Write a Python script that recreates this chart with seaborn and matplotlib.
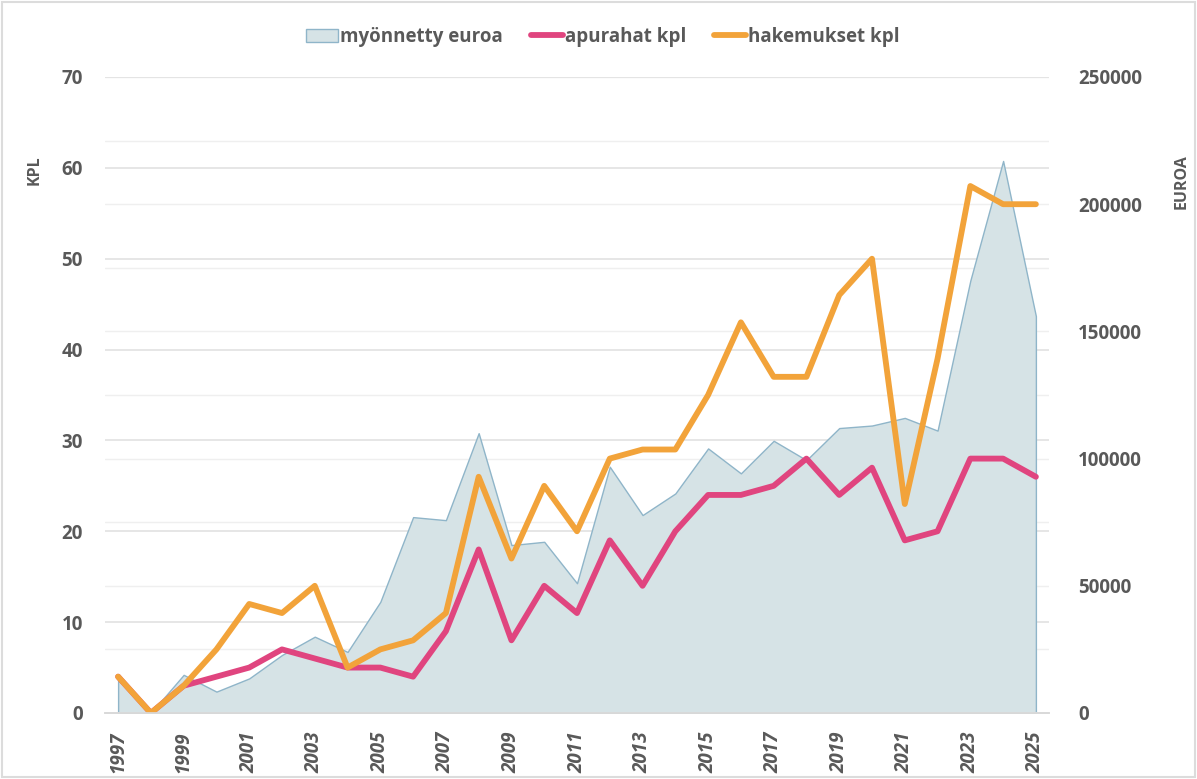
import matplotlib
matplotlib.use("Agg")
import matplotlib.pyplot as plt
from matplotlib.lines import Line2D
from matplotlib.patches import Patch, Rectangle
import numpy as np
import pandas as pd
import seaborn as sns

# data
years = list(range(1997, 2026))
myonnetty_euroa = [13000, 0, 15000, 8400, 13600, 22800, 30000, 24000, 43700, 77000,
                   75800, 110000, 66000, 67300, 51000, 96800, 77800, 86300, 104000, 94200,
                   107000, 99400, 112000, 113000, 116000, 111000, 170000, 217000, 156000]
apurahat_kpl = [4, 0, 3, 4, 5, 7, 6, 5, 5, 4,
                9, 18, 8, 14, 11, 19, 14, 20, 24, 24,
                25, 28, 24, 27, 19, 20, 28, 28, 26]
hakemukset_kpl = [4, 0, 3, 7, 12, 11, 14, 5, 7, 8,
                  11, 26, 17, 25, 20, 28, 29, 29, 35, 43,
                  37, 37, 46, 50, 23, 39, 58, 56, 56]

KPL_MAX = 70
EUR_MAX = 250000

TEXT = "#595959"
ORANGE = "#F2A33A"
PINK = "#E0457F"
FILL = "#D6E3E6"
EDGE = "#8FB5C9"

df = pd.DataFrame({
    "vuosi": years,
    "euroa": myonnetty_euroa,
    "apurahat": apurahat_kpl,
    "hakemukset": hakemukset_kpl,
})

sns.set_theme(style="white")
plt.rcParams["font.family"] = ["Open Sans", "DejaVu Sans"]
plt.rcParams["font.weight"] = "bold"

fig = plt.figure(figsize=(11.97, 7.79), dpi=100)
ax = fig.add_axes([105 / 1197, 66 / 779, 944 / 1197, 636 / 779])
ax2 = ax.twinx()
ax.set_zorder(ax2.get_zorder() + 1)
ax.patch.set_visible(False)

# gridlines sit on the euro axis so the area covers them
for k in range(1, 11):
    ax2.axhline(k * 25000, color="#EFEFEF", lw=1.0, zorder=0)
for k in range(1, 8):
    ax2.axhline(k * 10 * EUR_MAX / KPL_MAX, color="#E2E2E2", lw=1.2, zorder=0)

ax2.fill_between(df["vuosi"], df["euroa"], 0, facecolor=FILL, edgecolor=EDGE,
                 linewidth=1.0, zorder=2)

sns.lineplot(data=df, x="vuosi", y="apurahat", ax=ax, color=PINK, lw=4.2)
sns.lineplot(data=df, x="vuosi", y="hakemukset", ax=ax, color=ORANGE, lw=4.2)

ax.set_xlim(1996.6, 2025.4)
ax.set_ylim(0, KPL_MAX)
ax2.set_ylim(0, EUR_MAX)

ax.set_yticks(range(0, 71, 10))
ax2.set_yticks(range(0, 250001, 50000))
ax.set_xticks(range(1997, 2026, 2))
ax.set_xticks(range(1997, 2026), minor=True)

ax.tick_params(axis="y", length=0, pad=16, labelsize=13.5, labelcolor=TEXT)
ax2.tick_params(axis="y", length=0, pad=21, labelsize=13.5, labelcolor=TEXT)
ax.tick_params(axis="x", which="both", direction="out", length=4, color="#D9D9D9",
               pad=9, labelsize=13.5, labelcolor=TEXT, labelrotation=90)
for lab in ax.get_xticklabels():
    lab.set_fontstyle("italic")
    lab.set_fontweight("bold")

ax.set_xlabel("")
ax.set_ylabel("")
ax2.set_ylabel("")
for a in (ax, ax2):
    for side in ("top", "left", "right"):
        a.spines[side].set_visible(False)
    a.spines["bottom"].set_color("#D9D9D9")

fig.text(35 / 1197, 1 - 170 / 779, "KPL", rotation=90, ha="center", va="center",
         fontsize=11.5, color=TEXT, fontweight="bold")
fig.text(1182 / 1197, 1 - 182 / 779, "EUROA", rotation=90, ha="center", va="center",
         fontsize=11.5, color=TEXT, fontweight="bold")

handles = [
    Patch(facecolor=FILL, edgecolor=EDGE, linewidth=1.0),
    Line2D([], [], color=PINK, lw=4.2),
    Line2D([], [], color=ORANGE, lw=4.2),
]
leg = fig.legend(handles, ["myönnetty euroa", "apurahat kpl", "hakemukset kpl"],
                 loc="center", bbox_to_anchor=(603 / 1197, 1 - 37 / 779), ncol=3,
                 frameon=False, fontsize=13.5, handlelength=1.7, handleheight=0.7,
                 handletextpad=0.1, columnspacing=1.5)
for t in leg.get_texts():
    t.set_color(TEXT)

fig.patches.append(Rectangle((0.002, 0.003), 0.996, 0.994, transform=fig.transFigure,
                             fill=False, edgecolor="#DCDCDC", linewidth=1.5))

fig.savefig("out.png", dpi=100, facecolor="white")
